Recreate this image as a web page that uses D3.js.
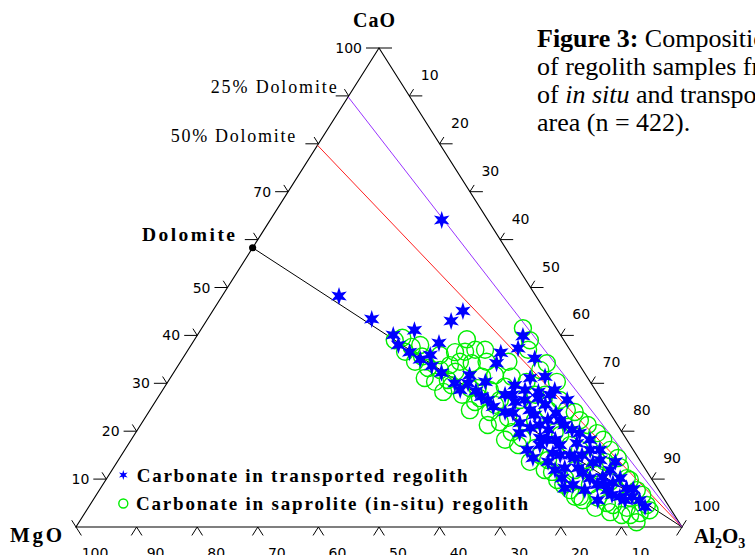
<!DOCTYPE html>
<html><head><meta charset="utf-8">
<script src="https://cdn.jsdelivr.net/npm/d3@7"></script>
<style>html,body{margin:0;padding:0;background:#fff;overflow:hidden}svg{display:block}</style>
</head><body>
<script>
// ---------- DATA ----------
// each sample: [CaO, MgO, Al2O3] (%)
const transported = [
[64.1,7.6,28.3],[48.2,32.5,19.3],[43.4,29.5,27.1],[45.1,13.6,41.3],[43.0,16.6,40.4],[38.4,20.9,40.7],[41.1,23.6,35.3],[40.1,27.6,32.3],[38.0,27.8,34.2],[35.0,25.7,39.3],
[39.9,6.3,53.8],[37.3,8.4,54.3],[35.2,6.7,58.1],[36.4,11.7,51.9],[34.2,13.5,52.3],[32.2,23.6,44.2],[31.4,6.9,61.7],[30.0,22.5,47.5],[30.0,20.3,49.7],[28.6,11.6,59.8],
[28.2,9.6,62.2],[28.6,6.7,64.7],[27.2,19.5,53.3],[25.1,18.6,56.3],[24.0,17.2,58.8],[23.8,16.0,60.2],[24.4,12.9,62.7],[25.5,9.8,64.7],[23.8,8.9,67.3],[21.7,15.9,62.4],
[19.6,17.0,63.4],[18.6,14.1,67.3],[16.1,17.5,66.4],[14.4,17.4,68.2],[15.4,13.6,71.0],[12.3,13.2,74.5],[10.2,14.7,75.1],[17.5,8.6,73.9],[19.6,7.1,73.3],[16.1,7.1,76.8],
[13.4,8.0,78.6],[11.3,10.7,78.0],[10.4,7.9,81.7],[9.2,6.8,84.0],[8.1,5.1,86.8],[6.3,7.1,86.6],[7.7,8.5,83.8],[8.8,9.6,81.6],[7.9,4.1,88.0],[28.4,19.8,51.8],
[26.5,18.8,54.7],[33.6,24.5,41.9],[36.5,26.7,36.8],[22.3,11.0,66.7],[21.3,8.7,70.0],[26.9,10.3,62.8],[18.2,13.2,68.6],[14.0,6.5,79.5],[11.9,5.9,82.2],[14.4,10.5,75.1],
[17.1,11.6,71.3],[7.7,12.2,80.1],[8.8,13.6,77.6],[5.6,4.2,90.2],[31.1,9.5,59.4],[27.6,14.2,58.2],[26.5,5.7,67.8],
[27.6,15.4,57.0],[26.1,14.5,59.4],[26.5,12.7,60.8],[23.4,12.6,64.0],[20.3,11.9,67.8],[20.7,14.7,64.6],[17.1,14.9,68.0],[18.2,11.8,70.0],[15.0,12.6,72.4],[13.6,15.3,71.1],
[15.0,11.0,74.0],[15.0,9.0,76.0],[18.2,6.1,75.7],[16.1,5.5,78.4],[13.6,4.2,82.2],[10.2,5.1,84.7],[8.8,8.3,82.9],[10.2,10.1,79.7],[12.3,11.0,76.7],[8.1,15.3,76.6],
[5.6,11.1,83.3],[5.6,6.6,87.8],[6.7,8.2,85.1],[6.3,5.1,88.6],[4.2,4.0,91.8],[27.6,8.0,64.4],[22.3,9.0,68.7],[20.3,8.0,71.7],[31.7,19.2,49.1],[30.3,17.3,52.4],
[28.6,22.3,49.1],[35.9,23.6,40.5],[29.6,12.8,57.6],[21.3,12.8,65.9],[11.9,15.0,73.1]
];
const saprolite = [
[41.5,5.5,53.0],[39.2,15.9,44.9],[36.6,17.5,45.9],[34.2,17.6,48.2],[39.0,27.9,33.1],[37.6,25.8,36.6],[35.6,25.1,39.3],[30.3,25.6,44.1],[28.2,25.3,46.5],[34.5,15.0,50.5],
[31.7,15.0,53.3],[31.4,17.3,51.3],[31.4,12.4,56.2],[29.3,14.6,56.1],[34.2,5.2,60.6],[30.3,5.5,64.2],[30.3,10.5,59.2],[32.8,7.0,60.2],[32.4,21.2,46.4],[34.5,19.4,46.1],
[39.5,26.4,34.1],[36.6,27.4,36.0],[33.2,25.3,41.5],[30.7,23.3,46.0],[27.6,22.5,49.9],[26.1,21.1,52.8],[24.0,19.7,56.3],[21.9,19.1,59.0],[19.8,18.2,62.0],[17.1,18.5,64.4],
[13.6,18.3,68.1],[11.9,16.7,71.4],[9.8,15.7,74.5],[7.7,14.6,77.7],[5.6,13.6,80.8],[6.1,10.8,83.1],[4.6,9.1,86.3],[4.0,7.1,88.9],[1.0,7.0,92.0],[2.9,5.5,91.6],
[4.6,3.5,91.9],[7.7,3.6,88.7],[12.5,4.0,83.5],[19.6,4.2,76.2],[24.4,6.8,68.8],[22.3,5.7,72.0],[16.1,3.8,80.1],[10.2,4.0,85.8],[5.0,9.9,85.1],[6.3,13.7,80.0],
[10.2,14.2,75.6],[14.0,15.1,70.9],[16.5,16.0,67.5],[26.5,16.8,56.7],[26.5,13.5,60.0],[22.3,13.1,64.6],[19.8,11.1,69.1],[17.1,9.9,73.0],[14.0,9.0,77.0],[10.9,8.4,80.7],
[8.1,7.0,84.9],[2.5,8.7,88.8],[6.1,5.5,88.4],[27.6,8.8,63.6],[26.5,6.9,66.6],[35.9,22.0,42.1],[33.8,21.4,44.8],[34.5,26.8,38.7],[29.0,19.2,51.8],[24.4,22.8,52.8],
[21.3,21.4,57.3],[18.2,20.1,61.7],[37.0,14.0,49.0],[34.5,11.4,54.1],[37.0,6.9,56.1],[11.9,11.7,76.4],[8.8,10.8,80.4],[13.6,5.9,80.5],[31.1,26.9,42.0],
[38.0,24.2,37.8],[32.8,23.5,43.7],[29.6,23.2,47.2],[29.0,20.5,50.5],[26.9,19.9,53.2],[25.5,18.1,56.4],[22.8,17.3,59.9],[18.6,17.1,64.3],[15.0,15.9,69.1],[11.5,15.7,72.8],
[8.8,15.2,76.0],[6.3,14.5,79.2],[4.0,12.3,83.7],[3.1,10.3,86.6],[2.5,7.3,90.2],[3.5,3.6,92.9],[6.7,3.2,90.1],[9.8,3.7,86.5],[14.4,3.4,82.2],[18.2,3.9,77.9],
[21.3,4.9,73.8],[24.0,5.7,70.3],[39.0,5.6,55.4],[27.6,10.4,62.0],[24.4,9.9,65.7],[19.2,10.5,70.3],[16.1,8.8,75.1],[12.3,8.2,79.5],[9.4,7.2,83.4],[28.6,17.4,54.0],
[37.0,15.6,47.4],[36.5,19.2,44.3]
];
// mixing lines: start composition on the CaO–MgO edge [CaO, MgO, Al2O3], end at Al2O3 apex
const mixNames = ["Dolomite", "50% Dolomite", "25% Dolomite"];
const mixStart = [[58.3,41.7,0],[79.7,20.3,0],[89.8,10.2,0]];
const mixEnd = [0,0,100];
const tickValues = [0,10,20,30,40,50,60,70,80,90,100];
const leftLabelOverride = {60:"Dolomite", 80:"50% Dolomite", 90:"25% Dolomite"};
const legendLabels = ["Carbonate in transported regolith", "Carbonate in saprolite (in-situ) regolith"];
const captionLines = ["Figure 3:", " Composition", "of regolith samples from", "of ", "in situ", " and transported", "area (n = 422)."];

// ---------- LAYOUT ----------
const W = 755, H = 555;
const svg = d3.select("body").append("svg").attr("width", W).attr("height", H);
const yScale = d3.scaleLinear().domain([0,100]).range([527,48]);   // CaO -> y
const xScale = d3.scaleLinear().domain([0,100]).range([76,682]);   // (Al2O3 + CaO/2) -> x
const proj = d => [xScale(d[2] + d[0]/2), yScale(d[0])];
const serif = "'Liberation Serif','Times New Roman',serif";
const sans = "'DejaVu Sans',Verdana,sans-serif";

// triangle
const tri = [[0,100,0],[0,0,100],[100,0,0]].map(proj);
svg.append("path").attr("d", d3.line()(tri) + "Z").attr("fill","none").attr("stroke","#000").attr("stroke-width",1.1);

// mixing lines
const mixColors = ["#000000", "#ff2020", "#9933ff"];
mixStart.forEach((s,i) => {
  svg.append("line").attr("x1",proj(s)[0]).attr("y1",proj(s)[1])
    .attr("x2",proj(mixEnd)[0]).attr("y2",proj(mixEnd)[1])
    .attr("stroke",mixColors[i]).attr("stroke-width",1);
});

// ticks
const uL = [-0.5346,-0.8451], uR = [0.5346,-0.8451];
const tk = svg.append("g").attr("stroke","#000").attr("stroke-width",1).attr("fill","none");
const seg = (p, dx, dy) => tk.append("line").attr("x1",p[0]).attr("y1",p[1]).attr("x2",p[0]+dx).attr("y2",p[1]+dy);
const labels = svg.append("g");
tickValues.forEach(v => {
  const pl = proj([v,100-v,0]);
  if (v>0) seg(pl,-13,0);
  if (v<100) seg(pl,uL[0]*8,uL[1]*8);
  const pr = proj([100-v,0,v]);
  if (v<100) seg(pr,13,0);
  if (v>0) seg(pr,uR[0]*8,uR[1]*8);
  const pb = proj([0,v,100-v]);
  if (v<100) seg(pb,-uR[0]*10,-uR[1]*10);
  if (v>0) seg(pb,-uL[0]*10,-uL[1]*10);
  if (v>0) {
    if (!leftLabelOverride[v]) {
      labels.append("text").attr("x",pl[0]-17).attr("y",pl[1]+5).attr("text-anchor","end")
        .attr("font-family",sans).attr("font-size",14).text(v);
    }
    labels.append("text").attr("x",pr[0]+11.5).attr("y",pr[1]-16).attr("font-family",sans).attr("font-size",14).text(v);
    labels.append("text").attr("x",pb[0]+19).attr("y",558).attr("text-anchor","middle")
      .attr("font-family",sans).attr("font-size",14).text(v);
  }
});
const ov = [
  {v:90, x:210.7, w:126, size:18, bold:false, y:92.5},
  {v:80, x:170.7, w:124.5, size:18, bold:false, y:141.5},
  {v:60, x:142, w:93, size:19.5, bold:true, y:240.5}
];
ov.forEach(o => {
  labels.append("text").attr("x",o.x).attr("y",o.y).attr("font-family",serif).attr("font-size",o.size)
    .attr("font-weight",o.bold?"bold":"normal").attr("textLength",o.w).attr("lengthAdjust","spacing")
    .text(leftLabelOverride[o.v]);
});
svg.append("circle").attr("cx",proj(mixStart[0])[0]).attr("cy",proj(mixStart[0])[1]).attr("r",3.6).attr("fill","#000");

labels.append("text").attr("x",353).attr("y",26.5).attr("font-family",serif).attr("font-size",20).attr("font-weight","bold")
  .attr("textLength",42).attr("lengthAdjust","spacing").text("CaO");
labels.append("text").attr("x",10).attr("y",541.5).attr("font-family",serif).attr("font-size",21).attr("font-weight","bold")
  .attr("textLength",52).attr("lengthAdjust","spacing").text("MgO");
const al = labels.append("text").attr("x",694).attr("y",543).attr("font-family",serif).attr("font-size",21).attr("font-weight","bold");
al.append("tspan").text("Al");
al.append("tspan").attr("dy",5).attr("font-size",14).text("2");
al.append("tspan").attr("dy",-5).text("O");
al.append("tspan").attr("dy",5).attr("font-size",14).text("3");

const starPath = (R, r) => {
  const pts = d3.range(12).map(i => [i*Math.PI/6, i%2===0 ? R : r]);
  return d3.lineRadial().curve(d3.curveLinearClosed)(pts);
};

svg.append("g").selectAll("circle").data(saprolite).join("circle")
  .attr("cx", d=>proj(d)[0]).attr("cy", d=>proj(d)[1]).attr("r",8.5)
  .attr("fill","none").attr("stroke","#00ee00").attr("stroke-width",1.4);
svg.append("g").selectAll("path").data(transported).join("path")
  .attr("d", starPath(9,3.8)).attr("transform", d=>`translate(${proj(d)[0]},${proj(d)[1]})`)
  .attr("fill","#0000ff");

svg.append("path").attr("d", starPath(5,2)).attr("transform","translate(123.3,475)").attr("fill","#0000ff");
svg.append("circle").attr("cx",123.3).attr("cy",503.5).attr("r",4.5).attr("fill","none").attr("stroke","#00ee00").attr("stroke-width",1.4);
labels.append("text").attr("x",136.7).attr("y",481.5).attr("font-family",serif).attr("font-size",19).attr("font-weight","bold")
  .attr("textLength",331).attr("lengthAdjust","spacing").text(legendLabels[0]);
labels.append("text").attr("x",136).attr("y",510).attr("font-family",serif).attr("font-size",19).attr("font-weight","bold")
  .attr("textLength",392).attr("lengthAdjust","spacing").text(legendLabels[1]);

const cap = svg.append("g").attr("font-family",serif).attr("font-size",26);
const t1 = cap.append("text").attr("x",537).attr("y",47);
t1.append("tspan").attr("font-weight","bold").text(captionLines[0]);
t1.append("tspan").text(captionLines[1]);
cap.append("text").attr("x",537).attr("y",75).text(captionLines[2]);
const t3 = cap.append("text").attr("x",537).attr("y",102.5);
t3.append("tspan").text(captionLines[3]);
t3.append("tspan").attr("font-style","italic").text(captionLines[4]);
t3.append("tspan").text(captionLines[5]);
cap.append("text").attr("x",537).attr("y",131).text(captionLines[6]);
</script>
</body></html>
